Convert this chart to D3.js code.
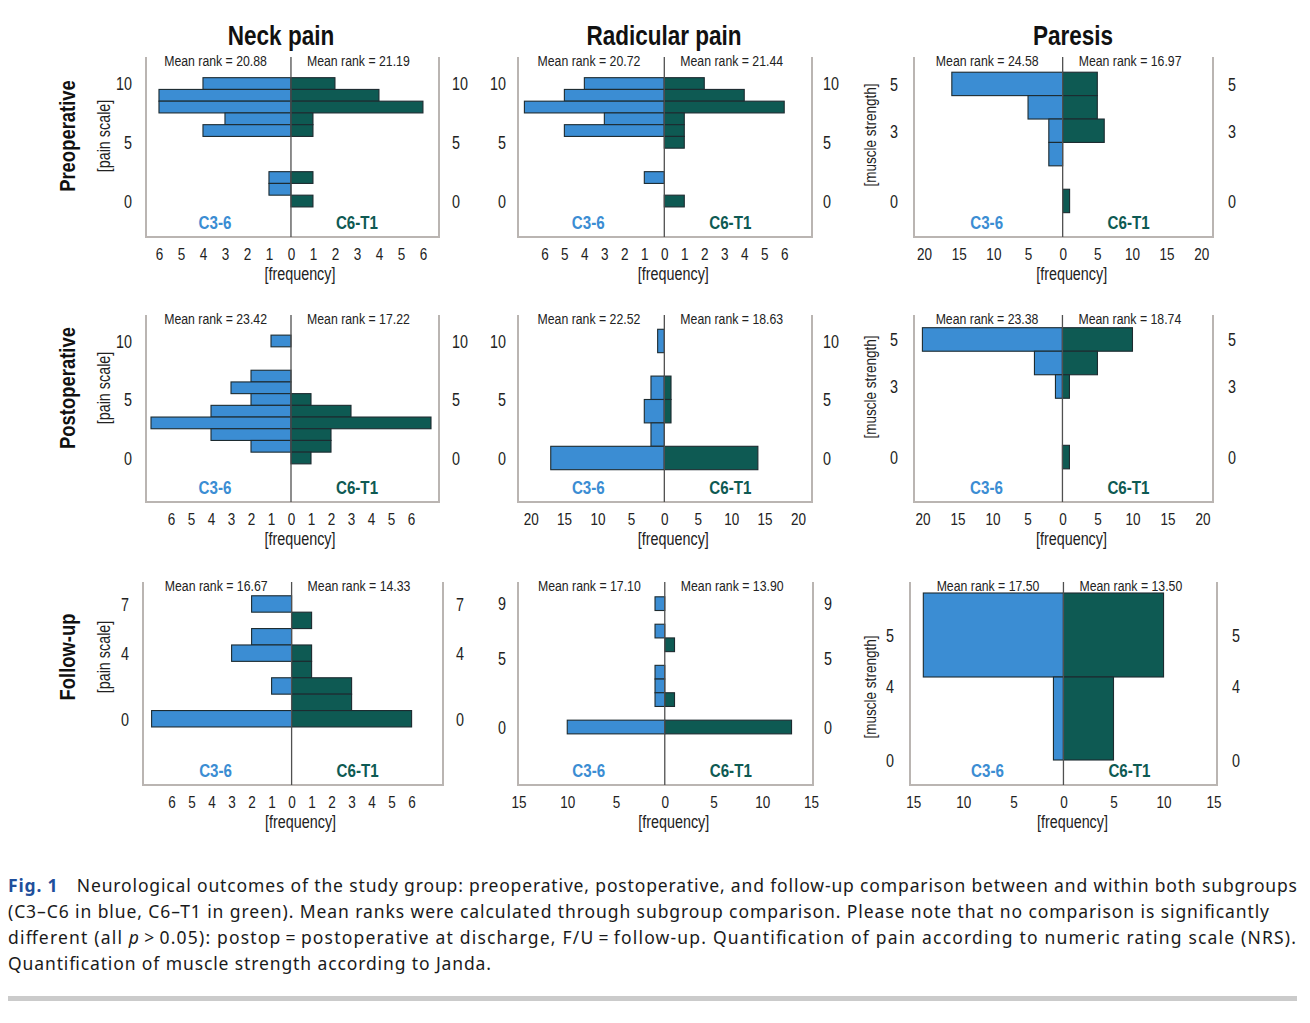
<!DOCTYPE html>
<html>
<head>
<meta charset="utf-8">
<script src="https://cdn.jsdelivr.net/npm/d3@7"></script>
<style>
body { margin: 0; background: #fff; }
svg text { font-family: "Liberation Sans", Arial, sans-serif; }
svg text.cap { font-family: "Noto Sans", "Open Sans", sans-serif; }
</style>
</head>
<body>
<svg id="fig" width="1310" height="1023"></svg>
<script>
var colTitles = ['Neck pain', 'Radicular pain', 'Paresis'];
var rowLabels = ['Preoperative', 'Postoperative', 'Follow-up'];
var scaleLabels = ['[pain scale]', '[pain scale]', '[muscle strength]'];
var groupLabels = ['C3-6', 'C6-T1'];

// preoperative
var neckPreScores = [10, 9, 8, 7, 6, 2, 1, 0];
var neckPreC36 = [4, 6, 6, 3, 4, 1, 1, 0];
var neckPreC6T1 = [2, 4, 6, 1, 1, 1, 0, 1];
var radPreScores = [10, 9, 8, 7, 6, 5, 2, 0];
var radPreC36 = [4, 5, 7, 3, 5, 0, 1, 0];
var radPreC6T1 = [2, 4, 6, 1, 1, 1, 0, 1];
var parPreScores = [5, 4, 3, 2, 0];
var parPreC36 = [16, 5, 2, 2, 0];
var parPreC6T1 = [5, 5, 6, 0, 1];

// postoperative
var neckPostScores = [10, 7, 6, 5, 4, 3, 2, 1, 0];
var neckPostC36 = [1, 2, 3, 2, 4, 7, 4, 2, 0];
var neckPostC6T1 = [0, 0, 0, 1, 3, 7, 2, 2, 1];
var radPostScores = [10, 6, 4, 2, 0];
var radPostC36 = [1, 2, 3, 2, 17];
var radPostC6T1 = [0, 1, 1, 0, 14];
var parPostScores = [5, 4, 3, 0];
var parPostC36 = [20, 4, 1, 0];
var parPostC6T1 = [10, 5, 1, 1];

// follow-up
var neckFuScores = [7, 6, 5, 4, 3, 2, 1, 0];
var neckFuC36 = [2, 0, 2, 3, 0, 1, 0, 7];
var neckFuC6T1 = [0, 1, 0, 1, 1, 3, 3, 6];
var radFuScores = [9, 7, 6, 4, 3, 2, 0];
var radFuC36 = [1, 1, 0, 1, 1, 1, 10];
var radFuC6T1 = [0, 0, 1, 0, 0, 1, 13];
var parFuScores = [5, 4];
var parFuC36 = [14, 1];
var parFuC6T1 = [10, 5];
// follow-up paresis bins are uneven in the original
var parFuBinLow = [4.5, 0];
var parFuBinHigh = [5.5, 4.5];

var meanRankC36 = [[20.88, 20.72, 24.58], [23.42, 22.52, 23.38], [16.67, 17.10, 17.50]];
var meanRankC6T1 = [[21.19, 21.44, 16.97], [17.22, 18.63, 18.74], [14.33, 13.90, 13.50]];

var yTickValues = [[[0, 5, 10], [0, 5, 10], [0, 3, 5]],
                   [[0, 5, 10], [0, 5, 10], [0, 3, 5]],
                   [[0, 4, 7], [0, 5, 9], [0, 4, 5]]];
var xTicks6 = [-6, -5, -4, -3, -2, -1, 0, 1, 2, 3, 4, 5, 6];
var xTicks20 = [-20, -15, -10, -5, 0, 5, 10, 15, 20];
var xTicks15 = [-15, -10, -5, 0, 5, 10, 15];

var captionLines = [
    [['Fig. 1', 'fig'], ['\u2003Neurological outcomes of the study group: preoperative, postoperative, and follow-up comparison between and within both subgroups', '']],
    [['(C3\u2013C6 in blue, C6\u2013T1 in green). Mean ranks were calculated through subgroup comparison. Please note that no comparison is significantly', '']],
    [['different (all ', ''], ['p', 'it'], ['\u2009>\u20090.05): postop\u2009=\u2009postoperative at discharge, F/U\u2009=\u2009follow-up. Quantification of pain according to numeric rating scale (NRS).', '']],
    [['Quantification of muscle strength according to Janda.', '']]
];

// layout
var rowTop = [57, 315, 582], rowBottom = [237, 502, 785];
var frameLeft = [[146, 518, 914], [146, 518, 914], [143, 518, 910]];
var frameRight = [[439, 812, 1213], [439, 812, 1213], [443, 813, 1217]];
var xDomains = [[[-6.59, 6.73], [-7.32, 7.39], [-21.46, 21.7]],
                [[-7.25, 7.4], [-21.9, 22.1], [-21.2, 21.5]],
                [[-7.43, 7.57], [-15.05, 15.2], [-15.33, 15.34]]];
var yDomains = [[[-3.06, 12.26], [-3.06, 12.26], [-1.54, 6.15]],
                [[-3.76, 12.22], [-3.76, 12.22], [-1.91, 6.04]],
                [[-4.04, 8.34], [-4.23, 10.58], null]];
var titleX = [281, 664, 1073];
var rowMid = [[136, 136, 135], [388, 388, 387], [657, 657, 687]];
var yPad = [14, 12, 16];

var BLUE = '#3b8dd3', TEAL = '#0e5a53';
var NARROW = 0.82; // the chart lettering is a narrow sans

var panels = [
    [[neckPreScores, neckPreC36, neckPreC6T1, 1, xTicks6],
     [radPreScores, radPreC36, radPreC6T1, 1, xTicks6],
     [parPreScores, parPreC36, parPreC6T1, 1, xTicks20]],
    [[neckPostScores, neckPostC36, neckPostC6T1, 1, xTicks6],
     [radPostScores, radPostC36, radPostC6T1, 2, xTicks20],
     [parPostScores, parPostC36, parPostC6T1, 1, xTicks20]],
    [[neckFuScores, neckFuC36, neckFuC6T1, 1, xTicks6],
     [radFuScores, radFuC36, radFuC6T1, 1, xTicks15],
     [parFuScores, parFuC36, parFuC6T1, 1, xTicks15]]
];

var svg = d3.select('#fig');
var fmt = d3.format('.2f');

function narrowText(parent, x, y, str, size, rot) {
    return parent.append('text')
        .attr('transform', 'translate(' + x + ',' + y + ')' + (rot ? ' rotate(' + rot + ')' : '') + ' scale(' + NARROW + ',1)')
        .attr('font-size', size).attr('fill', '#222').text(str);
}

colTitles.forEach(function(t, c) {
    narrowText(svg, titleX[c], 45, t, 27.5).attr('text-anchor', 'middle')
        .attr('font-weight', 'bold').attr('fill', '#111');
});

rowLabels.forEach(function(t, r) {
    narrowText(svg, 74.5, rowMid[r][0], t, 22.5, -90).attr('text-anchor', 'middle')
        .attr('font-weight', 'bold').attr('fill', '#111');
});

function drawPanel(r, c) {
    var spec = panels[r][c];
    var scores = spec[0], a = spec[1], b = spec[2], binH = spec[3], xTicks = spec[4];
    var x0 = frameLeft[r][c], x1 = frameRight[r][c], y0 = rowTop[r], y1 = rowBottom[r];
    var x = d3.scaleLinear().domain(xDomains[r][c]).range([x0, x1]);
    var y;
    if (yDomains[r][c]) {
        y = d3.scaleLinear().domain(yDomains[r][c]).range([y1, y0]);
    } else {
        y = d3.scaleLinear().domain([0, 4.5, 5.5]).range([760, 677, 593]);
    }
    var g = svg.append('g');

    g.append('path')
        .attr('d', 'M' + x0 + ',' + y0 + 'V' + y1 + 'H' + x1 + 'V' + y0)
        .attr('fill', 'none').attr('stroke', '#bab5b2').attr('stroke-width', 2);

    var bins = scores.map(function(s, i) {
        var lo = s - binH / 2, hi = s + binH / 2;
        if (scores === parFuScores) { lo = parFuBinLow[i]; hi = parFuBinHigh[i]; }
        return { lo: lo, hi: hi, a: a[i], b: b[i] };
    });

    g.selectAll('rect.l').data(bins.filter(function(d) { return d.a > 0; })).enter()
        .append('rect').attr('class', 'l')
        .attr('x', function(d) { return x(-d.a); })
        .attr('width', function(d) { return x(0) - x(-d.a); })
        .attr('y', function(d) { return y(d.hi); })
        .attr('height', function(d) { return y(d.lo) - y(d.hi); })
        .attr('fill', BLUE).attr('stroke', '#1d2b30').attr('stroke-width', 1.1);

    g.selectAll('rect.r').data(bins.filter(function(d) { return d.b > 0; })).enter()
        .append('rect').attr('class', 'r')
        .attr('x', x(0))
        .attr('width', function(d) { return x(d.b) - x(0); })
        .attr('y', function(d) { return y(d.hi); })
        .attr('height', function(d) { return y(d.lo) - y(d.hi); })
        .attr('fill', TEAL).attr('stroke', '#1d2b30').attr('stroke-width', 1.1);

    g.append('line').attr('x1', x(0)).attr('x2', x(0)).attr('y1', y0).attr('y2', y1)
        .attr('stroke', '#505050').attr('stroke-width', 1.3);

    // axes, no tick marks, only labels
    var xa = g.append('g').attr('transform', 'translate(0,' + y1 + ')')
        .call(d3.axisBottom(x).tickValues(xTicks).tickSize(0).tickFormat(function(d) { return Math.abs(d); }));
    xa.selectAll('text').attr('y', 0).attr('dy', null)
        .attr('transform', 'translate(0,23) scale(' + NARROW + ',1)');

    var yFmt = d3.format('d');
    var yl = g.append('g').attr('transform', 'translate(' + x0 + ',0)')
        .call(d3.axisLeft(y).tickValues(yTickValues[r][c]).tickSize(0).tickFormat(yFmt));
    yl.selectAll('text').attr('x', 0).attr('transform', 'translate(' + (-yPad[c]) + ',0) scale(' + NARROW + ',1)');
    var yr = g.append('g').attr('transform', 'translate(' + x1 + ',0)')
        .call(d3.axisRight(y).tickValues(yTickValues[r][c]).tickSize(0).tickFormat(yFmt));
    yr.selectAll('text').attr('x', 0).attr('transform', 'translate(' + (yPad[c] - 1) + ',0) scale(' + NARROW + ',1)');
    [yl, yr].forEach(function(ax) { ax.selectAll('text').attr('dy', '0.36em').attr('font-size', 17.5); });
    xa.selectAll('text').attr('font-size', 16.5);
    [xa, yl, yr].forEach(function(ax) {
        ax.select('.domain').remove();
        ax.attr('font-family', null).attr('font-size', null);
        ax.selectAll('text').attr('fill', '#222');
    });

    narrowText(g, x(0) + 9, y1 + 43, '[frequency]', 17.5).attr('text-anchor', 'middle');

    narrowText(g, x(0) - 24, y0 + 8.5, 'Mean rank = ' + fmt(meanRankC36[r][c]), 15).attr('text-anchor', 'end');
    narrowText(g, x(0) + 16, y0 + 8.5, 'Mean rank = ' + fmt(meanRankC6T1[r][c]), 15).attr('text-anchor', 'start');

    narrowText(g, x(0) - 76, y1 - 8.4, groupLabels[0], 18.5).attr('text-anchor', 'middle')
        .attr('font-weight', 'bold').attr('fill', BLUE);
    narrowText(g, x(0) + 66, y1 - 8.4, groupLabels[1], 18.5).attr('text-anchor', 'middle')
        .attr('font-weight', 'bold').attr('fill', TEAL);

    if (c !== 1) {
        var lx = c === 0 ? 109.5 : 875.5;
        narrowText(g, lx, rowMid[r][c], scaleLabels[c], c === 0 ? 17.5 : 16.5, -90)
            .attr('text-anchor', 'middle');
    }
}

for (var r = 0; r < 3; r++) {
    for (var c = 0; c < 3; c++) drawPanel(r, c);
}

// caption
var capWidths = [1289, 1261, 1288, 483];
captionLines.forEach(function(line, i) {
    var t = svg.append('text').attr('class', 'cap').attr('x', 8).attr('y', 892 + i * 26)
        .attr('font-size', 17.5).attr('fill', '#1a1a1a')
        .attr('textLength', capWidths[i]).attr('lengthAdjust', 'spacing');
    line.forEach(function(seg) {
        var ts = t.append('tspan').text(seg[0]);
        if (seg[1] === 'fig') ts.attr('fill', '#1f4f9c').attr('font-weight', 'bold');
        if (seg[1] === 'it') ts.attr('font-style', 'italic');
    });
});

svg.append('rect').attr('x', 8).attr('y', 996).attr('width', 1289).attr('height', 5).attr('fill', '#cbcbcb');
</script>
</body>
</html>
